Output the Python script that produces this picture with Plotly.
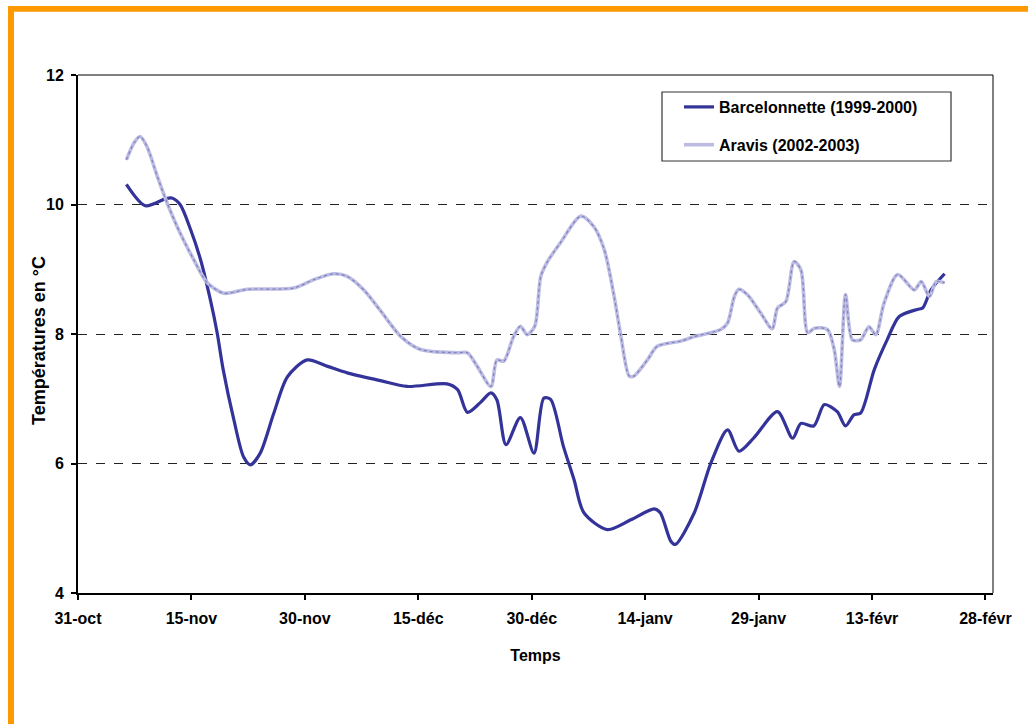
import datetime as dt
import plotly.graph_objects as go

START = dt.datetime(1999, 10, 31)

tick_days = [0, 15, 30, 45, 60, 75, 90, 105, 120]
tick_labels = ["31-oct", "15-nov", "30-nov", "15-déc", "30-déc", "14-janv", "29-janv", "13-févr", "28-févr"]

barc_days = [6.4, 8.9, 11.6, 12.4, 13.5, 14.9, 16.2, 17.5, 18.4, 19.2, 20.6, 21.9, 22.8, 24.1, 25.9, 27.7,
             30.3, 33.0, 35.6, 40.0, 43.5, 48.8, 50.2, 51.5, 53.2, 54.6, 55.4, 56.6, 58.5, 60.3, 61.6, 62.5,
             64.2, 65.6, 66.9, 70.0, 73.1, 76.2, 77.0, 78.4, 79.0, 81.5, 83.7, 85.9, 87.4, 89.4, 92.5, 94.5,
             95.6, 97.3, 98.7, 100.4, 101.5, 102.6, 103.5, 105.3, 107.0, 108.6, 111.0, 111.7, 112.8, 114.6]
barc_temp = [10.31, 9.98, 10.09, 10.10, 10.00, 9.61, 9.15, 8.53, 8.02, 7.45, 6.68, 6.10, 5.98, 6.16, 6.78, 7.34,
             7.60, 7.50, 7.40, 7.28, 7.19, 7.23, 7.14, 6.79, 6.94, 7.09, 6.98, 6.29, 6.71, 6.16, 7.01, 6.99,
             6.26, 5.75, 5.24, 4.98, 5.13, 5.30, 5.24, 4.80, 4.75, 5.24, 6.01, 6.52, 6.19, 6.40, 6.80, 6.39,
             6.62, 6.58, 6.91, 6.80, 6.58, 6.75, 6.78, 7.45, 7.91, 8.27, 8.38, 8.40, 8.68, 8.93]

arav_days = [6.4, 7.4, 8.2, 9.1, 10.5, 11.8, 13.5, 15.3, 17.1, 19.3, 22.4, 28.5, 31.2, 33.8, 35.6, 37.8,
             40.0, 42.7, 45.3, 50.2, 51.5, 52.8, 54.6, 55.4, 56.3, 57.6, 58.5, 59.4, 60.4, 61.2, 62.1, 63.8,
             66.5, 68.2, 69.6, 70.9, 71.8, 72.9, 73.5, 75.3, 76.6, 79.7, 81.5, 85.0, 85.9, 86.8, 87.4, 88.5,
             90.3, 91.8, 92.5, 93.6, 94.7, 95.6, 96.5, 97.4, 99.1, 100.0, 100.7, 101.5, 102.4, 103.5, 104.6,
             105.5, 106.6, 108.4, 110.6, 111.5, 112.6, 113.5, 114.6]
arav_temp = [10.69, 10.95, 11.05, 10.90, 10.43, 10.02, 9.56, 9.15, 8.79, 8.63, 8.69, 8.71, 8.84, 8.93, 8.89, 8.68,
             8.36, 7.96, 7.76, 7.71, 7.71, 7.50, 7.19, 7.60, 7.58, 7.96, 8.12, 7.99, 8.12, 8.89, 9.12, 9.41,
             9.82, 9.66, 9.30, 8.58, 7.96, 7.35, 7.35, 7.60, 7.81, 7.89, 7.96, 8.07, 8.17, 8.58, 8.69, 8.61,
             8.32, 8.08, 8.40, 8.50, 9.12, 8.99, 8.02, 8.09, 8.07, 7.76, 7.19, 8.61, 7.91, 7.91, 8.11,
             7.99, 8.48, 8.92, 8.68, 8.81, 8.58, 8.81, 8.79]


def to_dates(days):
    return [START + dt.timedelta(days=d) for d in days]


FONT = "Liberation Sans, Arial, sans-serif"
BOLD16 = dict(family=FONT, size=16, color="black", weight="bold")

# plot area in page pixels: left 78, width 915, bottom 593, height 518
def px_x(p):
    return (p - 78) / 915


def px_y(p):
    return (593 - p) / 518


fig = go.Figure()
fig.add_trace(go.Scatter(
    x=to_dates(barc_days), y=barc_temp, mode="lines", name="Barcelonnette (1999-2000)",
    line=dict(color="#333399", width=3.2, shape="spline", smoothing=0.8),
    legendgroup="b",
))
fig.add_trace(go.Scatter(
    x=to_dates(arav_days), y=arav_temp, mode="lines", name="Aravis (2002-2003)",
    line=dict(color="#bcbce2", width=3.6, shape="spline", smoothing=0.8),
    legendgroup="a",
))
fig.add_trace(go.Scatter(
    x=to_dates(arav_days), y=arav_temp, mode="lines", showlegend=False, hoverinfo="skip",
    line=dict(color="#8080c0", width=1.2, shape="spline", smoothing=0.8, dash="dot"),
    legendgroup="a",
))

fig.update_layout(
    width=1028, height=724, autosize=False,
    margin=dict(l=78, r=35, t=75, b=131),
    paper_bgcolor="white", plot_bgcolor="white",
    font=dict(family=FONT, size=16, color="black"),
    showlegend=True,
    legend=dict(
        x=px_x(662), y=px_y(90), xanchor="left", yanchor="top",
        bgcolor="rgba(0,0,0,0)", borderwidth=0,
        font=BOLD16, indentation=17,
        tracegroupgap=14,
    ),
    xaxis=dict(
        type="date",
        range=[START, START + dt.timedelta(days=121)],
        tickvals=to_dates(tick_days), ticktext=tick_labels,
        ticks="outside", ticklen=5, tickwidth=2, tickcolor="black",
        ticklabelstandoff=5,
        showgrid=False, zeroline=False,
        showline=True, linecolor="black", linewidth=2,
        tickfont=BOLD16,
        title=dict(text="Temps", font=BOLD16, standoff=24),
    ),
    yaxis=dict(
        range=[4, 12], tickvals=[4, 6, 8, 10, 12],
        ticks="outside", ticklen=5, tickwidth=2, tickcolor="black",
        ticklabelstandoff=4,
        showgrid=True, gridcolor="#222222", gridwidth=1, griddash="dash",
        zeroline=False,
        showline=True, linecolor="black", linewidth=2,
        tickfont=BOLD16,
    ),
    annotations=[
        dict(text="Températures en °C", xref="paper", yref="paper",
             x=px_x(39), y=px_y(341), textangle=-90, showarrow=False,
             xanchor="center", yanchor="middle",
             font=dict(family=FONT, size=18, color="black", weight="bold")),
    ],
    shapes=[
        dict(type="line", xref="paper", yref="paper", x0=0, x1=1, y0=1, y1=1,
             line=dict(color="black", width=1), layer="above"),
        dict(type="line", xref="paper", yref="paper", x0=1, x1=1, y0=0, y1=1,
             line=dict(color="black", width=1), layer="above"),
        # legend box
        dict(type="rect", xref="paper", yref="paper",
             x0=px_x(662), x1=px_x(951), y0=px_y(161), y1=px_y(92),
             fillcolor="white", line=dict(color="#333333", width=1.2), layer="above"),
        # orange frame
        dict(type="rect", xref="paper", yref="paper",
             x0=px_x(8), x1=px_x(1028), y0=px_y(11.7), y1=px_y(6),
             fillcolor="#ff9900", line=dict(width=0), layer="above"),
        dict(type="rect", xref="paper", yref="paper",
             x0=px_x(8), x1=px_x(14), y0=px_y(724), y1=px_y(6),
             fillcolor="#ff9900", line=dict(width=0), layer="above"),
    ],
)

fig.write_html("out.html", config={"displayModeBar": False},
               post_script="document.body.style.margin='0px';")
